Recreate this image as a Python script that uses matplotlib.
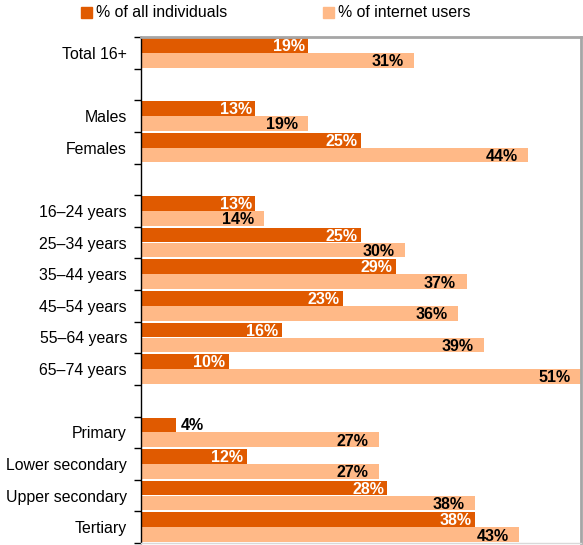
import numpy as np
import matplotlib
matplotlib.use("Agg")
from matplotlib import pyplot as plt
from matplotlib.patches import Rectangle

plt.rcParams['font.family'] = ['Liberation Sans', 'DejaVu Sans']

# rows (None = empty spacer row)
rows = ["Total 16+", None, "Males", "Females", None,
        "16\u201324 years", "25\u201334 years", "35\u201344 years",
        "45\u201354 years", "55\u201364 years", "65\u201374 years", None,
        "Primary", "Lower secondary", "Upper secondary", "Tertiary"]
allIndividuals = [19, None, 13, 25, None, 13, 25, 29, 23, 16, 10, None, 4, 12, 28, 38]
internetUsers = [31, None, 19, 44, None, 14, 30, 37, 36, 39, 51, None, 27, 27, 38, 43]
seriesNames = ["% of all individuals", "% of internet users"]

darkCol = "#E05A00"
lightCol = "#FFB987"
xmax = 50

fig = plt.figure(figsize=(5.83, 5.45), dpi=100)
ax = fig.add_axes([141/583, 2/545, 440/583, 506/545])

h = 0.46
for i, (a, b) in enumerate(zip(allIndividuals, internetUsers)):
    if a is None:
        continue
    ax.barh(i - 0.235, a, height=h, color=darkCol, zorder=2)
    ax.barh(i + 0.235, b, height=h, color=lightCol, zorder=2)
    if a < 6:
        ax.text(a + 0.5, i - 0.2, f"{a}%", ha="left", va="center",
                fontsize=11.5, fontweight="bold", color="black")
    else:
        ax.text(min(a, xmax) - 0.4, i - 0.2, f"{a}%", ha="right", va="center",
                fontsize=11.5, fontweight="bold", color="white")
    ax.text(min(b, xmax) - 1.2, i + 0.28, f"{b}%", ha="right", va="center",
            fontsize=11.5, fontweight="bold", color="black", clip_on=True)

ax.set_xlim(0, xmax)
ax.set_ylim(len(rows) - 0.5, -0.5)

ticks = [i for i, r in enumerate(rows) if r is not None]
ax.set_yticks(ticks)
ax.set_yticklabels([rows[i] for i in ticks], fontsize=11.4)
ax.tick_params(axis="y", which="major", length=0, pad=10)
ax.set_yticks(np.arange(-0.5, len(rows)), minor=True)
ax.tick_params(axis="y", which="minor", length=5, width=1, direction="out")
ax.set_xticks([])

ax.spines["left"].set_color("black")
ax.spines["left"].set_linewidth(1)
for s in ["top", "right"]:
    ax.spines[s].set_color("#A6A6A6")
    ax.spines[s].set_linewidth(2)
ax.spines["bottom"].set_color("#D9D9D9")
ax.spines["bottom"].set_linewidth(1)

# legend
W, H = 583, 545
for x0, col, name in [(81, darkCol, seriesNames[0]), (323, lightCol, seriesNames[1])]:
    fig.patches.append(Rectangle((x0 / W, 1 - 18 / H), 11 / W, 11 / H,
                                 transform=fig.transFigure, color=col))
    fig.text((x0 + 15) / W, 1 - 12.5 / H, name, fontsize=11.4, ha="left", va="center")

fig.savefig("out.png", dpi=100)
